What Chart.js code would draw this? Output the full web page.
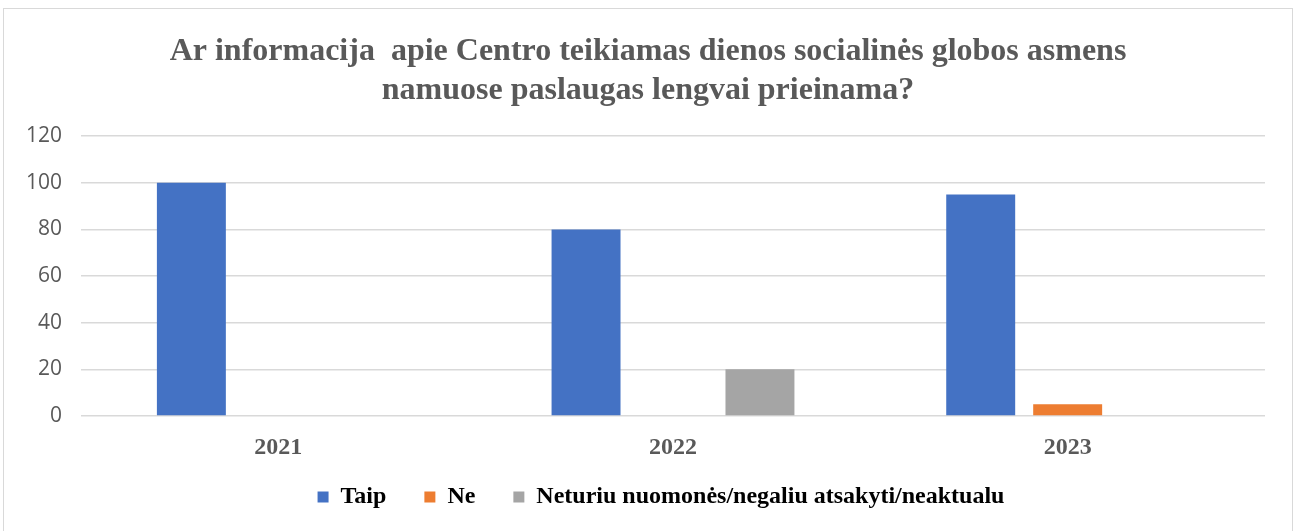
<!DOCTYPE html>
<html>
<head>
<meta charset="utf-8">
<script src="https://cdn.jsdelivr.net/npm/chart.js@4"></script>
<style>
  body { margin: 0; background: #fff; }
  #wrap { position: absolute; left: 3px; top: 8px; width: 1288px; height: 530px; border: 1px solid #d9d9d9; }
</style>
</head>
<body>
<div id="wrap"><canvas id="chart"></canvas></div>
<script>
const years = ['2021', '2022', '2023'];
const taip = [100, 80, 95];
const ne = [0, 0, 5];
const neturiu = [0, 20, 0];
const yTicks = [0, 20, 40, 60, 80, 100, 120];

const serif = '"Liberation Serif", "Times New Roman", serif';
const grey = '#595959';

// center title over the whole frame and pull the legend up under the year labels
const placeBlocks = {
  id: 'placeBlocks',
  afterLayout(chart) {
    const t = chart.titleBlock;
    t.left = 0; t.right = chart.width; t.width = chart.width;
    const l = chart.legend;
    l.left = 26; l.right = chart.width; l.width = chart.width - 26;
    l.top -= 16; l.bottom -= 16;
  }
};

const ctx = document.getElementById('chart').getContext('2d');
new Chart(ctx, {
  type: 'bar',
  data: {
    labels: years,
    datasets: [
      { label: 'Taip', data: taip, backgroundColor: '#4472c4' },
      { label: 'Ne', data: ne, backgroundColor: '#ed7d31' },
      { label: 'Neturiu nuomonės/negaliu atsakyti/neaktualu', data: neturiu, backgroundColor: '#a5a5a5' }
    ]
  },
  options: {
    responsive: true,
    maintainAspectRatio: false,
    animation: false,
    categoryPercentage: 0.661,
    barPercentage: 0.793,
    layout: { padding: { left: 0, right: 27, top: 0, bottom: 4 } },
    plugins: {
      title: {
        display: true,
        text: ['Ar informacija  apie Centro teikiamas dienos socialinės globos asmens', 'namuose paslaugas lengvai prieinama?'],
        color: grey,
        font: { family: serif, size: 32, weight: 'bold', lineHeight: 1.22 },
        padding: { top: 23, bottom: 26 }
      },
      legend: {
        position: 'bottom',
        labels: {
          color: '#000',
          font: { family: serif, size: 24, weight: 'bold' },
          boxWidth: 11,
          boxHeight: 11,
          padding: 38
        }
      },
      tooltip: { enabled: false }
    },
    scales: {
      x: {
        grid: { display: false },
        border: { display: false },
        afterFit: s => { s.height = 47; },
        ticks: { color: grey, font: { family: serif, size: 24, weight: 'bold' }, padding: 9 }
      },
      y: {
        min: 0,
        max: 120,
        afterBuildTicks: s => { s.ticks = yTicks.map(v => ({ value: v })); },
        afterFit: s => { s.width = 77; },
        grid: { color: '#d9d9d9', lineWidth: 1.5, drawTicks: false },
        border: { display: false },
        ticks: { color: grey, font: { family: '"Open Sans", "Liberation Sans", sans-serif', size: 21 }, padding: 19 }
      }
    }
  },
  plugins: [placeBlocks]
});
</script>
</body>
</html>
